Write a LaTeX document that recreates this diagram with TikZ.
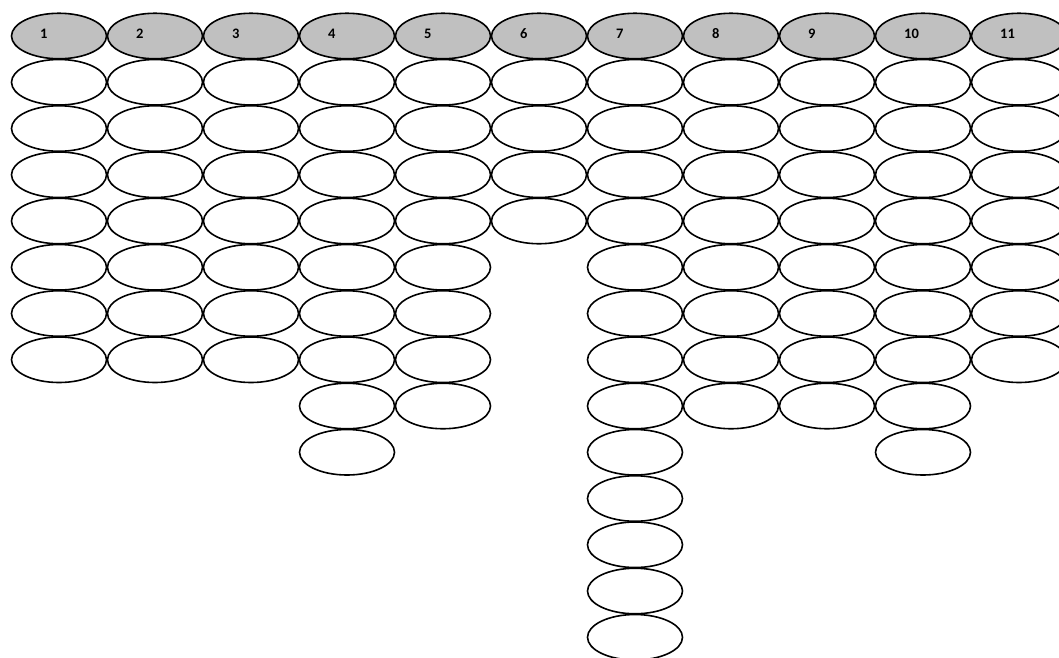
\documentclass[tikz,border=0pt]{standalone}
\usepackage{fontspec}
\setmainfont{Carlito}
\usetikzlibrary{shapes.geometric}
\tikzset{
  cell/.style={ellipse, draw=black, line width=1.6pt, minimum width=95pt, minimum height=45.5pt, inner sep=0pt, fill=white},
  head/.style={cell, fill=hdgray},
  hlabel/.style={font=\bfseries\fontsize{14.5}{14.5}\selectfont, anchor=west, inner sep=0pt}
}
\definecolor{hdgray}{HTML}{C0C0C0}
\begin{document}
\begin{tikzpicture}[x=1pt,y=-1pt]
\useasboundingbox (0,0) rectangle (1059,657);
\fill[white] (0,0) rectangle (1059,657);
\foreach \c/\n in {1/7,2/7,3/7,4/9,5/8,6/4,7/13,8/8,9/8,10/9,11/7}{
  \pgfmathsetmacro{\xx}{59+96*(\c-1)}
  \foreach \r in {1,...,\n}{
    \node[cell] (c\c r\r) at (\xx,{36+46.25*\r}) {};
  }
  \node[head] (h\c) at (\xx,36) {};
  \node[hlabel] (t\c) at ([xshift=-19pt,yshift=2pt]h\c.center) {\c};
}
\end{tikzpicture}
\end{document}
